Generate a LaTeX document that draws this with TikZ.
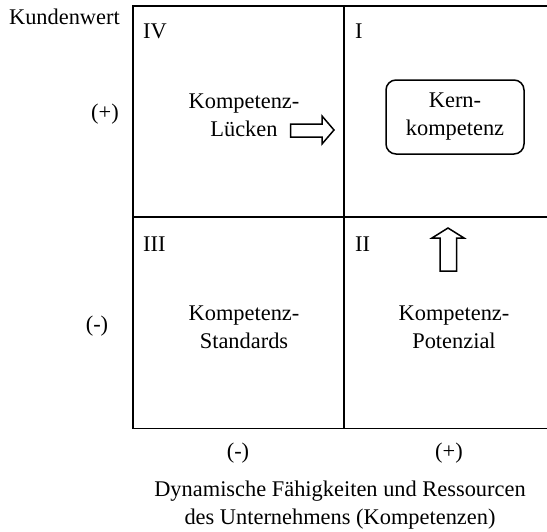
\documentclass[tikz,border=0pt]{standalone}
\usepackage{fontspec}
\setmainfont{Liberation Serif}
\begin{document}
\begin{tikzpicture}[x=1pt,y=-1pt,
  lbl/.style={inner sep=0pt, font=\fontsize{22.4}{28}\selectfont, align=center},
  grid/.style={line width=1.8pt},
  fat/.style={line width=1.5pt, line join=miter},
  kbox/.style={draw, line width=1.5pt, rounded corners=10pt, minimum width=138pt, minimum height=74pt, inner sep=0pt, font=\fontsize{22.4}{28}\selectfont, align=center}]
\useasboundingbox (0,0) rectangle (547,531);
% grid
\coordinate (tl) at (132.7,6);
\coordinate (br) at (557,428.5);
\coordinate (mt) at (344,6);
\coordinate (mb) at (344,428.5);
\coordinate (ml) at (132.7,217);
\coordinate (mr) at (557,217);
\draw[grid] (tl) rectangle (br);
\draw[grid] (mt) -- (mb);
\draw[grid] (ml) -- (mr);
% quadrant numerals
\node[lbl, anchor=west] (q4) at (143,31) {IV};
\node[lbl, anchor=west] (q1) at (355,31) {I};
\node[lbl, anchor=west] (q3) at (143,244) {III};
\node[lbl, anchor=west] (q2) at (355,244) {II};
% quadrant texts
\node[lbl] (luecken) at (244,115) {Kompetenz-\\Lücken};
\node[kbox] (kern) at (455,117) {Kern-\\kompetenz};
\node[lbl] (standards) at (244,327) {Kompetenz-\\Standards};
\node[lbl] (potenzial) at (454,327) {Kompetenz-\\Potenzial};
% block arrows
\draw[fat] (290.7,124) -- (322,124) -- (322,116) -- (334,130) -- (322,144) -- (322,137) -- (290.7,137) -- cycle;
\draw[fat] (440,271) -- (440,238) -- (432,238) -- (448,228) -- (464,238) -- (456.7,238) -- (456.7,271) -- cycle;
% axis labels
\node[lbl, anchor=east] (kw) at (120,17) {Kundenwert};
\node[lbl, anchor=east] (yp) at (119,114) {(+)};
\node[lbl] (ym) at (97,326) {(-)};
\node[lbl] (xm) at (238,453) {(-)};
\node[lbl] (xp) at (449,453) {(+)};
\node[lbl] (cap) at (340,505) {Dynamische Fähigkeiten und Ressourcen\\des Unternehmens (Kompetenzen)};
\end{tikzpicture}
\end{document}
